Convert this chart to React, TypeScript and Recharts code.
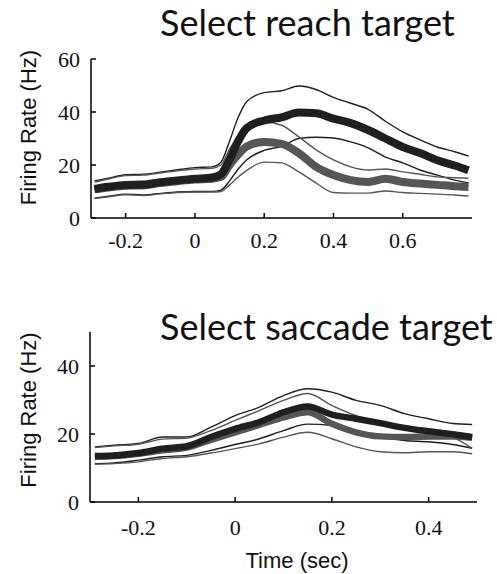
import { LineChart, Line, XAxis, YAxis } from 'recharts';

// ---- top panel: select reach target ----
const reachTime = [
  -0.29, -0.25, -0.2, -0.15, -0.1, -0.05, 0, 0.05, 0.075, 0.1, 0.125, 0.15, 0.2,
  0.25, 0.3, 0.35, 0.4, 0.45, 0.5, 0.55, 0.6, 0.65, 0.7, 0.75, 0.79,
];
const reachDarkMean = [
  11, 11.8, 12.5, 12.6, 13.5, 14.2, 14.8, 15.3, 16.5, 22, 29, 34, 36.8, 38,
  39.8, 39.5, 37.5, 35.8, 33.2, 30, 26.8, 24.5, 21.8, 19.8, 18,
];
const reachDarkUpper = [
  14, 15, 16.3, 16.5, 17.3, 18.2, 19, 19.3, 21, 29, 38, 44, 47.3, 48, 49.8,
  48.5, 45.5, 43.3, 41, 36.5, 32.5, 29.5, 26.8, 25, 23.4,
];
const reachDarkLower = [
  7.5, 8.2, 9, 8.7, 9.3, 9.8, 10, 10, 10.5, 14, 18.5, 22, 25.5, 27, 30, 30.5,
  30.2, 28.7, 26.5, 23, 20.8, 18.1, 16.2, 14.3, 13.2,
];
const reachGrayMean = [
  10.8, 11.5, 12.2, 12.3, 13.2, 13.9, 14.5, 14.8, 15.5, 20, 24, 27, 28.7, 28,
  24.5, 19.3, 16.2, 14.3, 13.6, 14.8, 13.6, 13, 12.5, 12, 11.7,
];
const reachGrayUpper = [
  13.5, 14.7, 16, 16.2, 17, 17.8, 18.5, 18.8, 20, 26, 31, 34, 36.2, 35, 30.6,
  25.7, 21.9, 19.3, 18.1, 18.5, 17.4, 16.5, 15.5, 15.2, 15,
];
const reachGrayLower = [
  7.3, 8, 8.8, 8.5, 9.1, 9.6, 9.8, 9.8, 10, 12.5, 15.5, 18, 21.1, 20.8, 17.4,
  13.2, 9.6, 9.4, 9.4, 10.2, 9.6, 9.3, 9, 8.7, 8.3,
];
const reachXTicks = [-0.2, 0, 0.2, 0.4, 0.6];
const reachYTicks = [0, 20, 40, 60];

// ---- bottom panel: select saccade target ----
const saccadeTime = [
  -0.29, -0.25, -0.2, -0.15, -0.1, -0.05, 0, 0.05, 0.1, 0.15, 0.2, 0.25, 0.3,
  0.35, 0.4, 0.45, 0.49,
];
const saccadeDarkMean = [
  13.5, 13.7, 14.4, 15.7, 16.4, 19.1, 21.5, 23.5, 26.4, 28.1, 25.7, 24.5, 23.2,
  21.8, 20.8, 19.9, 19.1,
];
const saccadeDarkUpper = [
  16.2, 16.7, 17.2, 19.1, 19.1, 22, 25.4, 27.9, 31.3, 33.3, 32.3, 29.9, 28.4,
  26, 24.5, 23.1, 22.8,
];
const saccadeDarkLower = [
  11.3, 11.5, 12.3, 13.3, 13.7, 15.2, 16.9, 18.6, 21, 22.9, 22.5, 20.5, 19.1,
  18.1, 17.7, 16.9, 15.8,
];
const saccadeGrayMean = [
  13.3, 13.5, 14.2, 15.2, 16, 18.3, 20.5, 22.7, 24.9, 26.4, 23, 20.5, 19.3,
  19.1, 19.3, 19.3, 18.9,
];
const saccadeGrayUpper = [
  16, 16.5, 17, 18.5, 18.8, 21, 24, 26.9, 29.9, 31.9, 28.4, 25.4, 23.5, 22.2,
  21, 19.1, 15.8,
];
const saccadeGrayLower = [
  11.1, 11.3, 11.8, 12.8, 13.3, 14.4, 15.7, 17.1, 19.1, 20.5, 18.6, 16.2, 14.8,
  14.5, 14.8, 14.8, 14.2,
];
const saccadeXTicks = [-0.2, 0, 0.2, 0.4];
const saccadeYTicks = [0, 20, 40];

const buildRows = (
  t: number[],
  darkMean: number[],
  darkUpper: number[],
  darkLower: number[],
  grayMean: number[],
  grayUpper: number[],
  grayLower: number[]
) =>
  t.map((time, i) => ({
    time,
    darkMean: darkMean[i],
    darkUpper: darkUpper[i],
    darkLower: darkLower[i],
    grayMean: grayMean[i],
    grayUpper: grayUpper[i],
    grayLower: grayLower[i],
  }));

const reachData = buildRows(
  reachTime,
  reachDarkMean,
  reachDarkUpper,
  reachDarkLower,
  reachGrayMean,
  reachGrayUpper,
  reachGrayLower
);
const saccadeData = buildRows(
  saccadeTime,
  saccadeDarkMean,
  saccadeDarkUpper,
  saccadeDarkLower,
  saccadeGrayMean,
  saccadeGrayUpper,
  saccadeGrayLower
);

const DARK = '#1f1f1f';
const GRAY = '#565656';
const SERIF = '"Liberation Serif", "Times New Roman", serif';

// serif tick labels, drawn by hand so the font is applied for sure
const XTick = ({ x, y, payload }: any) => (
  <text
    x={x}
    y={y}
    dy="0.71em"
    textAnchor="middle"
    fontFamily={SERIF}
    fontSize={22}
    fill="#111"
  >
    {String(payload.value)}
  </text>
);

const YTick = ({ x, y, payload }: any) => (
  <text
    x={x}
    y={y}
    dy="0.35em"
    textAnchor="end"
    fontFamily={SERIF}
    fontSize={22}
    fill="#111"
  >
    {String(payload.value)}
  </text>
);

interface PanelProps {
  data: ReturnType<typeof buildRows>;
  xDomain: [number, number];
  yDomain: [number, number];
  xTicks: number[];
  yTicks: number[];
  top: number;
  height: number;
  margin: { top: number; right: number; left: number; bottom: number };
  xTickMargin: number;
  thick: number;
}

const Panel = ({
  data,
  xDomain,
  yDomain,
  xTicks,
  yTicks,
  top,
  height,
  margin,
  xTickMargin,
  thick,
}: PanelProps) => (
  <div style={{ position: 'absolute', left: 0, top }}>
    <LineChart width={497} height={height} data={data} margin={margin}>
      <XAxis
        dataKey="time"
        type="number"
        domain={xDomain}
        ticks={xTicks}
        allowDataOverflow
        height={40}
        stroke="#000"
        strokeWidth={1.5}
        tickSize={-5}
        tickMargin={xTickMargin}
        tick={<XTick />}
      />
      <YAxis
        type="number"
        domain={yDomain}
        ticks={yTicks}
        allowDataOverflow
        width={50}
        stroke="#000"
        strokeWidth={1.5}
        tickSize={-5}
        tickMargin={16}
        tick={<YTick />}
      />
      <Line dataKey="darkUpper" type="monotone" stroke={DARK} strokeWidth={1.4} dot={false} isAnimationActive={false} />
      <Line dataKey="darkLower" type="monotone" stroke={DARK} strokeWidth={1.4} dot={false} isAnimationActive={false} />
      <Line dataKey="grayUpper" type="monotone" stroke={GRAY} strokeWidth={1.4} dot={false} isAnimationActive={false} />
      <Line dataKey="grayLower" type="monotone" stroke={GRAY} strokeWidth={1.4} dot={false} isAnimationActive={false} />
      <Line dataKey="grayMean" type="monotone" stroke={GRAY} strokeWidth={thick} dot={false} isAnimationActive={false} />
      <Line dataKey="darkMean" type="monotone" stroke={DARK} strokeWidth={thick} dot={false} isAnimationActive={false} />
    </LineChart>
  </div>
);

const titleStyle = {
  fontFamily: 'Lato, "Open Sans", sans-serif',
  fontSize: 36,
  fill: '#111',
};
const labelStyle = {
  fontFamily: '"Liberation Sans", Arial, sans-serif',
  fontSize: 22,
  fill: '#111',
};

export default function App() {
  return (
    <div
      style={{
        position: 'absolute',
        left: 0,
        top: 0,
        width: 497,
        height: 574,
        background: '#fff',
        overflow: 'hidden',
      }}
    >
      <Panel
        data={reachData}
        xDomain={[-0.3, 0.8]}
        yDomain={[0, 60]}
        xTicks={reachXTicks}
        yTicks={reachYTicks}
        top={0}
        height={290}
        margin={{ top: 59, right: 25, left: 41, bottom: 32 }}
        xTickMargin={19}
        thick={8}
      />
      <Panel
        data={saccadeData}
        xDomain={[-0.3, 0.5]}
        yDomain={[0, 50]}
        xTicks={saccadeXTicks}
        yTicks={saccadeYTicks}
        top={290}
        height={284}
        margin={{ top: 42, right: 20, left: 40, bottom: 32 }}
        xTickMargin={22}
        thick={6.5}
      />
      <svg
        width={497}
        height={574}
        style={{ position: 'absolute', left: 0, top: 0, pointerEvents: 'none' }}
      >
        <text x={160} y={36} style={titleStyle}>
          Select reach target
        </text>
        <text x={160} y={340} style={titleStyle}>
          Select saccade target
        </text>
        <text
          transform="translate(28,127.5) rotate(-90)"
          textAnchor="middle"
          dy="0.35em"
          style={labelStyle}
        >
          Firing Rate (Hz)
        </text>
        <text
          transform="translate(28,410) rotate(-90)"
          textAnchor="middle"
          dy="0.35em"
          style={labelStyle}
        >
          Firing Rate (Hz)
        </text>
        <text x={297} y={568} textAnchor="middle" style={labelStyle}>
          Time (sec)
        </text>
      </svg>
    </div>
  );
}
